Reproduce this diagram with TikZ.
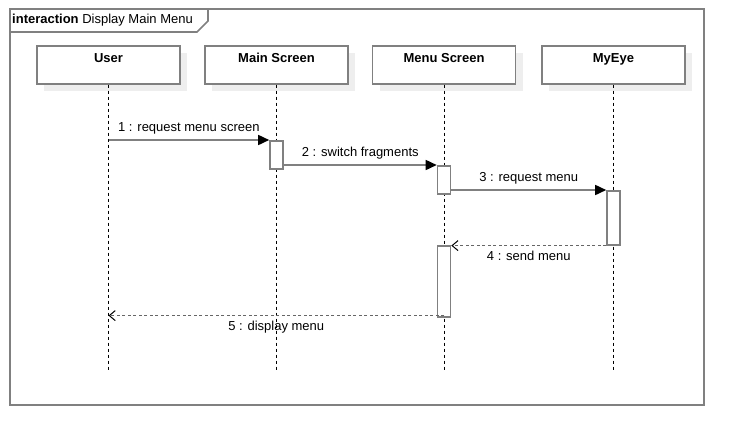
\documentclass[tikz,border=0pt]{standalone}
\usepackage{fontspec}
\setmainfont{Liberation Sans}
\usetikzlibrary{arrows.meta,shadows}
\definecolor{lnc}{HTML}{808080}
\definecolor{shd}{HTML}{EEEEEE}
\tikzset{
  head/.style={draw=lnc, line width=1.6pt, fill=white, minimum width=143pt, minimum height=38pt,
     anchor=north, font=\fontsize{13}{15}\selectfont\bfseries, inner ysep=4pt, text height=13pt, text depth=17pt,
     drop shadow={shadow xshift=7pt, shadow yshift=-7pt, fill=shd, opacity=1}},
  lifeline/.style={draw=black, line width=1pt, dash pattern=on 3pt off 3pt},
  act/.style={draw=lnc, line width=1.6pt, fill=white, minimum width=13pt, inner sep=0pt, anchor=north},
  msg/.style={draw=lnc, line width=1.6pt, -{Triangle[length=11pt,width=10pt,fill=black,color=black]}},
  ret/.style={draw=lnc!80!black, line width=1.4pt, dash pattern=on 3pt off 2.5pt,
     -{Straight Barb[length=6pt,width=10pt,line width=1pt,color=black]}},
  lbl/.style={font=\fontsize{13}{15}\selectfont, inner sep=0pt},
  frame/.style={draw=lnc, line width=1.6pt}
}
\begin{document}
\begin{tikzpicture}[x=1pt,y=-1pt]
\useasboundingbox (0,0) rectangle (744,445);
% frame
\coordinate (ftl) at (10,9);
\coordinate (fbr) at (704,405);
\draw[frame] (ftl) rectangle (fbr);
\draw[frame] (ftl |- 0,32) -- (197,32) -- (208,21) -- (208,9);
\node[lbl, anchor=west] (title) at (12,20.5) {\textbf{interaction} Display Main Menu};
% heads
\node[head] (user) at (108.5,45) {User};
\node[head] (main) at (276.5,45) {Main Screen};
\node[head] (menu) at (444,45) {Menu Screen};
\node[head] (myeye) at (613.5,45) {MyEye};
% lifelines
\coordinate (bottom) at (0,370);
\draw[lifeline] (user.south) -- (user |- bottom);
\draw[lifeline] (main.south) -- (main |- bottom);
\draw[lifeline] (menu.south) -- (menu |- bottom);
\draw[lifeline] (myeye.south) -- (myeye |- bottom);
% activations
\node[act, minimum height=28pt] (a1) at (276.5,140) {};
\node[act, minimum height=28pt] (a2) at (444,165) {};
\node[act, minimum height=54pt] (a3) at (613.5,190) {};
\node[act, minimum height=71pt] (a4) at (444,245) {};
% messages
\draw[msg] (user |- a1.north) -- (a1.north west)
  node[lbl, midway, above=5pt] {1 : request menu screen};
\draw[msg] (a1.east |- a2.north) -- (a2.north west)
  node[lbl, midway, above=5pt] {2 : switch fragments};
\draw[msg] (a2.east |- a3.north) -- (a3.north west)
  node[lbl, midway, above=5pt] {3 : request menu};
\draw[ret] (a3.south west) -- (a3.south west -| a4.east)
  node[lbl, midway, below=5pt] {4 : send menu};
\coordinate (r5) at ([yshift=2pt]a4.south);
\draw[ret] (r5) -- (user |- r5)
  node[lbl, midway, below=5pt] {5 : display menu};
\end{tikzpicture}
\end{document}
